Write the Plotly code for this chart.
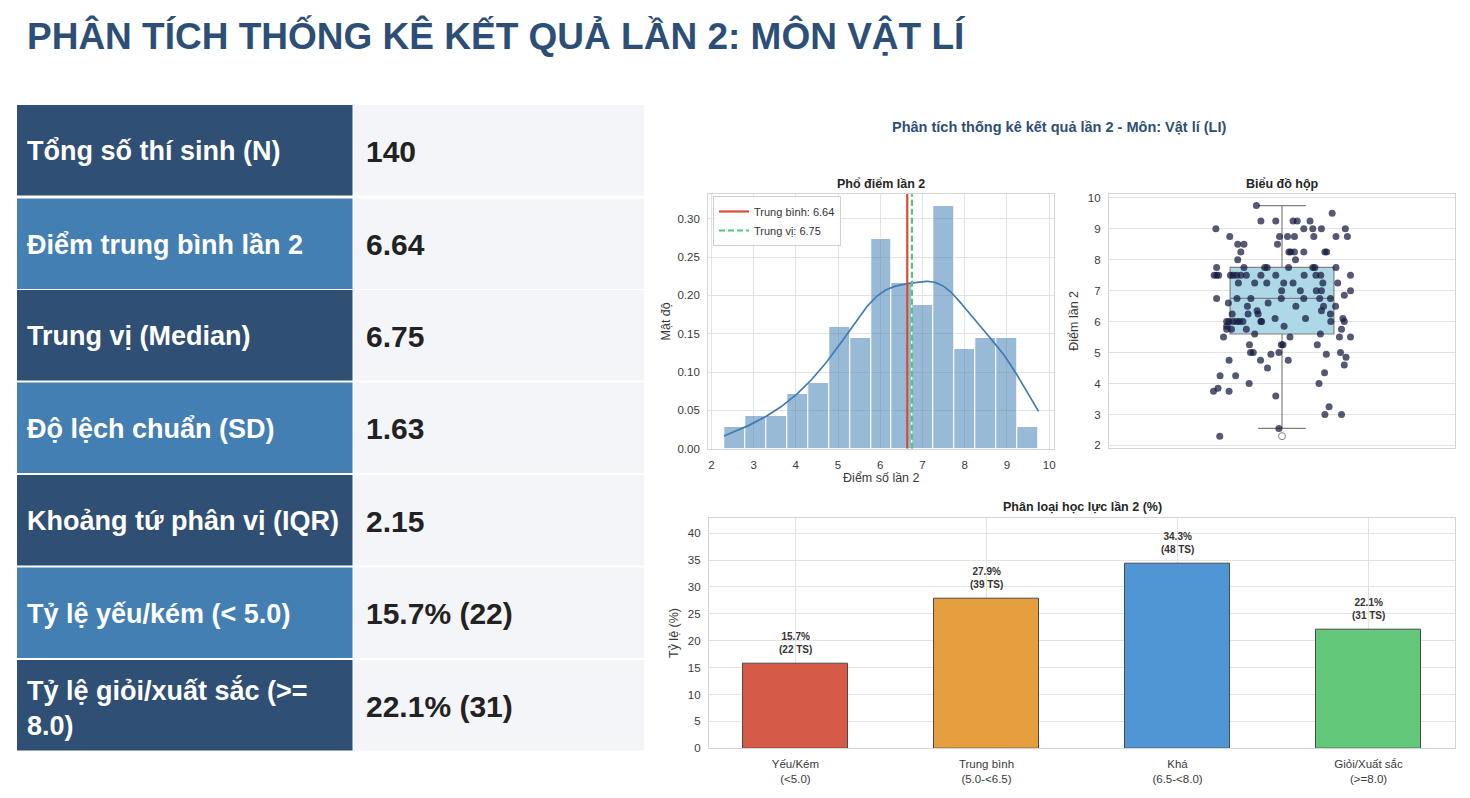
import numpy as np
import plotly.graph_objects as go

W, H = 1470, 798
FONT = "Liberation Sans, Arial, sans-serif"

# ---- summary table ----
stat_labels = ["Tổng số thí sinh (N)", "Điểm trung bình lần 2", "Trung vị (Median)",
               "Độ lệch chuẩn (SD)", "Khoảng tứ phân vị (IQR)", "Tỷ lệ yếu/kém (&lt; 5.0)",
               "Tỷ lệ giỏi/xuất sắc (&gt;=<br>8.0)"]
stat_values = ["140", "6.64", "6.75", "1.63", "2.15", "15.7% (22)", "22.1% (31)"]

# ---- individual scores and their horizontal jitter ----
scores = [
    9.75, 9.5,
    9.25, 9.25, 9.25, 9.25, 9.25,
    9.0, 9.0, 9.0, 9.0, 9.0,
    8.75, 8.75, 8.75, 8.75, 8.75, 8.75, 8.75,
    8.5, 8.5, 8.5,
    8.25, 8.25, 8.25, 8.25, 8.25, 8.25, 8.25,
    8.0, 8.0,
    7.75, 7.75, 7.75, 7.75, 7.75, 7.75, 7.75, 7.75,
    7.5, 7.5, 7.5, 7.5, 7.5, 7.5, 7.5, 7.5, 7.5, 7.5, 7.5, 7.5, 7.5, 7.5,
    7.25, 7.25, 7.25, 7.25, 7.25, 7.25, 7.25,
    7.0, 7.0, 7.0, 7.0, 7.0,
    6.85,
    6.75, 6.75, 6.75, 6.75, 6.75, 6.75, 6.75,
    6.6, 6.6,
    6.5, 6.5, 6.5, 6.5,
    6.35, 6.35,
    6.25, 6.25, 6.25, 6.25,
    6.1, 6.1, 6.1,
    6.0, 6.0, 6.0, 6.0, 6.0, 6.0, 6.0, 6.0, 6.0, 6.0,
    5.85, 5.85,
    5.75, 5.75, 5.75, 5.75,
    5.6, 5.6,
    5.5, 5.5, 5.5, 5.5,
    5.25, 5.25, 5.25, 5.25,
    5.0, 5.0, 5.0, 5.0,
    4.95, 4.95,
    4.85,
    4.75, 4.75, 4.75,
    4.6, 4.5, 4.35,
    4.25, 4.25,
    4.0, 4.0,
    3.85,
    3.75, 3.75,
    3.6, 3.25,
    3.0, 3.0,
    2.55, 2.3,
]
jitter = [
    -0.074, 0.145,
    -0.061, -0.018, 0.032, 0.044, 0.081,
    -0.191, 0.063, 0.089, 0.114, 0.183,
    -0.151, -0.007, 0.016, 0.036, 0.092, 0.156, 0.189,
    -0.128, -0.110, -0.013,
    -0.119, 0.020, 0.025, 0.036, 0.063, 0.124, 0.129,
    -0.128, 0.039,
    -0.189, -0.110, -0.050, -0.043, 0.019, 0.089, 0.095, 0.156,
    -0.196, -0.189, -0.183, -0.149, -0.141, -0.131, -0.119, -0.103, -0.061, -0.018, 0.064, 0.098, 0.112, 0.198,
    -0.126, -0.079, -0.044, 0.005, 0.032, 0.118, 0.161,
    -0.001, 0.053, 0.099, 0.114, 0.198,
    0.180,
    -0.189, -0.130, -0.090, -0.002, 0.063, 0.109, 0.140,
    -0.155, -0.040,
    -0.100, 0.040, 0.120, 0.155,
    -0.072, 0.114,
    -0.144, -0.098, -0.069, 0.140,
    -0.020, 0.068, 0.176,
    -0.160, -0.153, -0.141, -0.131, -0.123, -0.113, -0.061, -0.059, 0.141, 0.180,
    -0.160, 0.006,
    -0.160, -0.146, -0.103, 0.172,
    -0.079, 0.111,
    -0.169, 0.023, 0.166, 0.198,
    -0.094, -0.002, 0.003, 0.102,
    -0.091, -0.083, -0.009, 0.169,
    -0.032, 0.128,
    0.185,
    -0.153, -0.062, 0.018,
    0.180, -0.042, 0.123,
    -0.179, -0.134,
    -0.095, 0.107,
    -0.185,
    -0.198, -0.153,
    -0.018, 0.136,
    0.124, 0.172,
    -0.009, -0.180,
]

mean_score = 6.64
median_score = 6.75

# ---- category bar chart ----
cat_labels = ["Yếu/Kém<br>(&lt;5.0)", "Trung bình<br>(5.0-&lt;6.5)",
              "Khá<br>(6.5-&lt;8.0)", "Giỏi/Xuất sắc<br>(&gt;=8.0)"]
cat_pct = [15.7, 27.9, 34.3, 22.1]
cat_count = [22, 39, 48, 31]
cat_colors = ["#d65a48", "#e69d3d", "#4f96d4", "#64c87a"]


def px(x):
    return x / W


def py(y):
    return 1 - y / H


s = np.array(scores)
dens, edges = np.histogram(s, bins=15, density=True)
centers = (edges[:-1] + edges[1:]) / 2
bw = edges[1] - edges[0]

# gaussian kde, scott bandwidth, cut at data range (like seaborn)
h = s.std(ddof=1) * len(s) ** (-1 / 5)
grid = np.linspace(s.min(), s.max(), 200)
kde = np.exp(-0.5 * ((grid[:, None] - s[None, :]) / h) ** 2).sum(axis=1) / (len(s) * h * np.sqrt(2 * np.pi))

hist_top = dens.max() * 1.05
pad = (s.max() - s.min()) * 0.05

fig = go.Figure()

fig.add_trace(go.Bar(x=centers, y=dens, width=bw, marker=dict(color="rgba(70,130,180,0.55)",
                     line=dict(color="white", width=1)), showlegend=False, hoverinfo="skip",
                     xaxis="x", yaxis="y"))
fig.add_trace(go.Scatter(x=grid, y=kde, mode="lines", line=dict(color="#3f7bb4", width=1.7),
                         showlegend=False, xaxis="x", yaxis="y"))
fig.add_trace(go.Scatter(x=[mean_score, mean_score], y=[0, hist_top], mode="lines",
                         line=dict(color="#dc4a3a", width=2.2), name="Trung bình: %.2f" % mean_score,
                         xaxis="x", yaxis="y"))
fig.add_trace(go.Scatter(x=[median_score, median_score], y=[0, hist_top], mode="lines",
                         line=dict(color="#4ccb74", width=2.2, dash="6px,3px"),
                         name="Trung vị: %.2f" % median_score, xaxis="x", yaxis="y"))

# box + strip
fig.add_trace(go.Box(y=scores, x0=0, width=0.3, boxpoints="outliers", whiskerwidth=0.46,
                     fillcolor="#add8e6", line=dict(color="#808080", width=1.2),
                     marker=dict(symbol="circle-open", color="#808080", size=7),
                     showlegend=False, xaxis="x2", yaxis="y2"))
fig.add_trace(go.Scatter(x=jitter, y=scores, mode="markers",
                         marker=dict(color="#14193d", opacity=0.72, size=7),
                         showlegend=False, xaxis="x2", yaxis="y2"))

# categories
fig.add_trace(go.Bar(x=list(range(len(cat_pct))), y=cat_pct, width=0.55,
                     marker=dict(color=cat_colors, line=dict(color="#4a4a4a", width=1)),
                     showlegend=False, xaxis="x3", yaxis="y3"))


def note(text, x, y, size, color, **kw):
    d = dict(text=text, x=px(x), y=py(y), xref="paper", yref="paper", showarrow=False,
             xanchor="center", yanchor="middle",
             font=dict(size=size, color=color, family=FONT))
    d.update(kw)
    return d


ann = []
ann.append(note("<b>PHÂN TÍCH THỐNG KÊ KẾT QUẢ LẦN 2: MÔN VẬT LÍ</b>", 25, 36, 37, "#2d4f77",
                xanchor="left"))

row_top = [105, 198.5, 290, 382.5, 475, 567.5, 660]
row_h = 90.5
shapes = []
for i, (lab, val) in enumerate(zip(stat_labels, stat_values)):
    t = row_top[i]
    b = t + row_h
    shapes.append(dict(type="rect", xref="paper", yref="paper", x0=px(17), x1=px(352.5),
                       y0=py(b), y1=py(t), fillcolor="#2f4f74" if i % 2 == 0 else "#447fb3",
                       line=dict(width=0), layer="below"))
    shapes.append(dict(type="rect", xref="paper", yref="paper", x0=px(353.5), x1=px(644),
                       y0=py(b), y1=py(t), fillcolor="#f4f5f9", line=dict(width=0), layer="below"))
    dy = 3 if "<br>" in lab else 1
    ann.append(note("<b>%s</b>" % lab, 25, (t + b) / 2 + dy, 27, "white",
                    xanchor="left", align="left"))
    ann.append(note("<b>%s</b>" % val, 364, (t + b) / 2 + 1, 30, "#222222", xanchor="left"))

ann.append(note("<b>Phân tích thống kê kết quả lần 2 - Môn: Vật lí (LI)</b>", 1058.5, 127, 14.5, "#2d4f77"))
ann.append(note("<b>Phổ điểm lần 2</b>", 881.3, 183.5, 12.5, "#262626"))
ann.append(note("<b>Biểu đồ hộp</b>", 1282, 184, 12.5, "#262626"))
ann.append(note("<b>Phân loại học lực lần 2 (%)</b>", 1082, 507, 12.5, "#262626"))

for i, (p, c) in enumerate(zip(cat_pct, cat_count)):
    ann.append(dict(text="<b>%.1f%%<br>(%d TS)</b>" % (p, c), x=i, y=p + 1.2, xref="x3", yref="y3",
                    xanchor="center", yanchor="bottom", showarrow=False,
                    font=dict(size=10, color="#333333", family=FONT)))

grid_c = "#e3e3e3"
line_c = "#d4d4d4"
tick_f = dict(size=11.5, color="#3a3a3a", family=FONT)
title_f = dict(size=12.5, color="#3a3a3a", family=FONT)
common = dict(showline=True, mirror=True, linecolor=line_c, linewidth=1.3, gridcolor=grid_c,
              gridwidth=1, zeroline=False, ticks="", tickfont=tick_f, ticklabelstandoff=5,
              automargin=False)

fig.update_layout(
    width=W, height=H, margin=dict(l=0, r=0, t=0, b=0),
    paper_bgcolor="white", plot_bgcolor="white", font=dict(family=FONT),
    bargap=0, barmode="overlay",
    annotations=ann, shapes=shapes,
    legend=dict(x=px(713), y=py(196), xanchor="left", yanchor="top", bgcolor="rgba(255,255,255,0.85)",
                bordercolor="#d0d0d0", borderwidth=1, font=dict(size=11, color="#333333", family=FONT),
                tracegroupgap=0, itemwidth=30),
    xaxis=dict(domain=[px(708.3), px(1054.3)], range=[s.min() - pad, s.max() + pad], dtick=1, tick0=0,
               showgrid=True, anchor="y",
               title=dict(text="Điểm số lần 2", font=title_f, standoff=2), **common),
    yaxis=dict(domain=[py(448.7), py(194)], range=[0, hist_top], dtick=0.05, tickformat=".2f",
               showgrid=True, anchor="x",
               title=dict(text="Mật độ", font=title_f, standoff=4), **common),
    xaxis2=dict(domain=[px(1109), px(1455)], range=[-0.5, 0.5], showgrid=False, showticklabels=False,
                anchor="y2", **common),
    yaxis2=dict(domain=[py(447.7), py(194)], range=[s.min() - pad, s.max() + pad], dtick=1, tick0=0,
                showgrid=True, anchor="x2",
                title=dict(text="Điểm lần 2", font=title_f, standoff=6), **common),
    xaxis3=dict(domain=[px(709), px(1455)], range=[-0.4525, 3.4525], tickvals=list(range(len(cat_labels))),
                ticktext=cat_labels, showgrid=True, anchor="y3", **common),
    yaxis3=dict(domain=[py(748.3), py(517.7)], range=[0, max(cat_pct) * 1.25], dtick=5,
                showgrid=True, anchor="x3",
                title=dict(text="Tỷ lệ (%)", font=title_f, standoff=6), **common),
)

fig.write_html("out.html", config={"displayModeBar": False},
               post_script="document.body.style.margin='0';")
